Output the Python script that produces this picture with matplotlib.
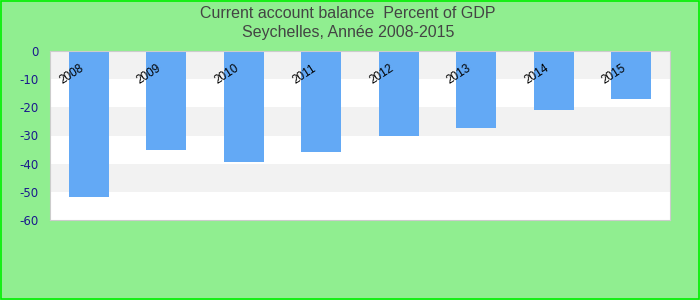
import matplotlib
matplotlib.use("Agg")
import matplotlib.pyplot as plt
from matplotlib.patches import Rectangle

years = ["2008", "2009", "2010", "2011", "2012", "2013", "2014", "2015"]
balance = [-52.0, -35.3, -39.5, -35.8, -30.2, -27.2, -21.0, -17.2]
yticks = [0, -10, -20, -30, -40, -50, -60]


def main():
    fig = plt.figure(figsize=(7, 3), dpi=100)
    fig.patch.set_facecolor("#90EE90")
    fig.patches.append(Rectangle((0.001, 0.002), 0.997, 0.995, transform=fig.transFigure,
                                 fill=False, edgecolor="#00ee00", linewidth=1.2))

    ax = fig.add_axes([50 / 700, 1 - 220 / 300, 620 / 700, 169 / 300])
    ax.set_facecolor("white")

    # alternating horizontal bands
    for i in range(len(yticks) - 1):
        if i % 2 == 0:
            ax.axhspan(yticks[i + 1], yticks[i], color="#f2f2f2", zorder=0, linewidth=0)

    x = list(range(len(years)))
    ax.bar(x, balance, width=0.52, color="#63a9f5", zorder=2)

    for i, yr in enumerate(years):
        ax.text(i - 0.22, -8.2, yr, rotation=33, ha="center", va="center",
                fontsize=8.5, family="Liberation Sans", color="black", zorder=3)

    ax.set_xlim(-0.5, len(years) - 0.5)
    ax.set_ylim(-60, 0)
    ax.set_yticks(yticks)
    ax.set_yticklabels([str(v) for v in yticks], color="#1a1a8c", fontsize=8.5)
    ax.set_xticks([])
    ax.tick_params(axis="y", length=0, pad=8)
    for s in ax.spines.values():
        s.set_color("#cccccc")

    fig.text(0.497, 1 - 13 / 300, "Current account balance  Percent of GDP", ha="center",
             va="center", fontsize=11.5, family="Liberation Sans", color="#444444")
    fig.text(0.497, 1 - 32 / 300, "Seychelles, Année 2008-2015", ha="center",
             va="center", fontsize=11.5, family="Liberation Sans", color="#444444")

    fig.savefig("out.png", dpi=100, facecolor=fig.get_facecolor())
    plt.close(fig)


if __name__ == "__main__":
    main()
